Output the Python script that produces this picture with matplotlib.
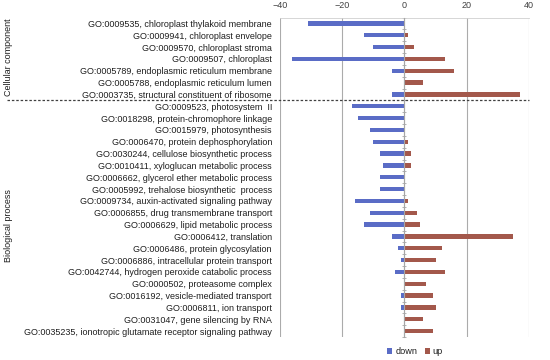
import matplotlib
matplotlib.use("Agg")
import matplotlib.pyplot as plt
import matplotlib.transforms as mtransforms
from matplotlib.ticker import FixedLocator
import numpy as np

cc_terms = [
    "GO:0009535, chloroplast thylakoid membrane",
    "GO:0009941, chloroplast envelope",
    "GO:0009570, chloroplast stroma",
    "GO:0009507, chloroplast",
    "GO:0005789, endoplasmic reticulum membrane",
    "GO:0005788, endoplasmic reticulum lumen",
    "GO:0003735, structural constituent of ribosome",
]
bp_terms = [
    "GO:0009523, photosystem  II",
    "GO:0018298, protein-chromophore linkage",
    "GO:0015979, photosynthesis",
    "GO:0006470, protein dephosphorylation",
    "GO:0030244, cellulose biosynthetic process",
    "GO:0010411, xyloglucan metabolic process",
    "GO:0006662, glycerol ether metabolic process",
    "GO:0005992, trehalose biosynthetic  process",
    "GO:0009734, auxin-activated signaling pathway",
    "GO:0006855, drug transmembrane transport",
    "GO:0006629, lipid metabolic process",
    "GO:0006412, translation",
    "GO:0006486, protein glycosylation",
    "GO:0006886, intracellular protein transport",
    "GO:0042744, hydrogen peroxide catabolic process",
    "GO:0000502, proteasome complex",
    "GO:0016192, vesicle-mediated transport",
    "GO:0006811, ion transport",
    "GO:0031047, gene silencing by RNA",
    "GO:0035235, ionotropic glutamate receptor signaling pathway",
]
cc_down = [-31, -13, -10, -36, -4, 0, -4]
cc_up = [0, 1, 3, 13, 16, 6, 37]
bp_down = [-17, -15, -11, -10, -8, -7, -8, -8, -16, -11, -13, -4, -2, -1, -3, 0, -1, -1, 0, 0]
bp_up = [0, 0, 0, 1, 2, 2, 0, 0, 1, 4, 5, 35, 12, 10, 13, 7, 9, 10, 6, 9]
group_names = ["Cellular component", "Biological process"]
xticks = [-40, -20, 0, 20, 40]

labels = cc_terms + bp_terms
down = cc_down + bp_down
up = cc_up + bp_up

FONT = "Liberation Sans"
plt.rcParams['font.family'] = [FONT, 'DejaVu Sans']

W, H = 550, 360
fig = plt.figure(figsize=(W / 100, H / 100), dpi=100)
ax = fig.add_axes([280 / W, 1 - 337 / H, (529 - 280) / W, (337 - 17.5) / H])

DOWN_C = "#5A6CC6"
UP_C = "#A3584B"
y = np.arange(len(labels))
bh = 0.36
ax.barh(y, down, height=bh, color=DOWN_C, label="down", zorder=3)
ax.barh(y, up, height=bh, color=UP_C, label="up", zorder=3)

ax.set_xlim(-40, 40)
ax.set_ylim(len(labels) - 0.5, -0.5)
ax.set_xticks(xticks)
ax.xaxis.tick_top()
ax.tick_params(axis='x', which='both', length=0, pad=5.2, labelsize=6.5, labelcolor="#404040")
ax.grid(axis='x', color="#ABABAB", linewidth=0.8, zorder=0)

ax.set_yticks(y)
ax.set_yticklabels(labels)
ax.yaxis.set_minor_locator(FixedLocator(np.arange(-0.5, len(labels), 1.0)))
ax.spines['right'].set_position(('data', 0))
ax.spines['right'].set_color("#A6A6A6")
ax.spines['right'].set_linewidth(0.8)
ax.spines['right'].set_zorder(4)
ax.yaxis.set_ticks_position('both')
ax.tick_params(axis='y', which='major', left=False, right=False, length=0, labelleft=True,
               labelright=False, pad=5.8, labelsize=6.45, labelcolor="#1f1f1f")
ax.tick_params(axis='y', which='minor', left=False, right=True, direction='inout',
               length=3, width=0.6, color="#A6A6A6")
for s in ['left', 'bottom']:
    ax.spines[s].set_visible(False)
ax.spines['top'].set_color("#D0D0D0")
ax.spines['top'].set_linewidth(0.6)

# group separator
trans = mtransforms.blended_transform_factory(fig.transFigure, ax.transData)
sep = len(cc_terms) - 0.5
ax.add_line(plt.Line2D([7 / W, 529 / W], [sep, sep], transform=trans, color="#404040",
                       linestyle=(0, (2, 1.5)), linewidth=0.9, clip_on=False))

fig.text(9 / W, 1 - 57 / H, group_names[0], rotation=90, ha='center', va='center',
         fontsize=6.5, color="#1f1f1f")
fig.text(9 / W, 1 - 226 / H, group_names[1], rotation=90, ha='center', va='center',
         fontsize=6.5, color="#1f1f1f")

fig.legend(loc='center', bbox_to_anchor=(415 / W, 1 - 352 / H), ncol=2, frameon=False,
           fontsize=6.6, handlelength=0.6, handleheight=0.6, handletextpad=0.3,
           columnspacing=0.8, borderpad=0, labelcolor="#1f1f1f")

fig.savefig("out.png", dpi=100)
